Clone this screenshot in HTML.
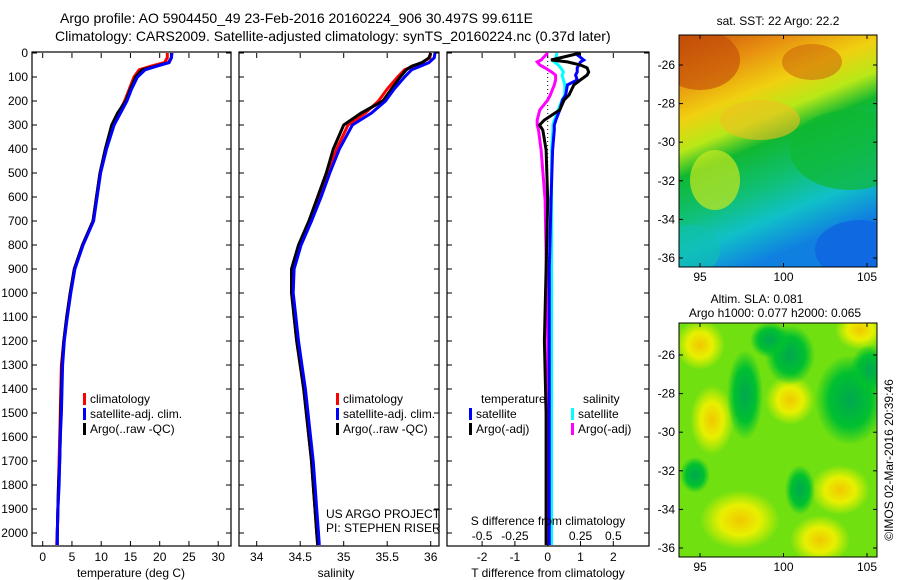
<!DOCTYPE html>
<html><head><meta charset="utf-8">
<style>
html,body{margin:0;padding:0;background:#fff;}
svg{display:block;font-family:"Liberation Sans",sans-serif;}
text{fill:#000;}
</style></head>
<body>
<svg id="fig" width="900" height="580" viewBox="0 0 900 580" xmlns="http://www.w3.org/2000/svg">
<defs>
  <linearGradient id="sstGrad" x1="0" y1="0" x2="0.35" y2="1">
    <stop offset="0" stop-color="#c8500a"/>
    <stop offset="0.18" stop-color="#e89010"/>
    <stop offset="0.33" stop-color="#f0d010"/>
    <stop offset="0.45" stop-color="#b8e818"/>
    <stop offset="0.55" stop-color="#10b830"/>
    <stop offset="0.72" stop-color="#10c078"/>
    <stop offset="0.85" stop-color="#10c0c8"/>
    <stop offset="1" stop-color="#1080e0"/>
  </linearGradient>
  <radialGradient id="yb"><stop offset="0" stop-color="#f0c800"/><stop offset="0.5" stop-color="#e8f000"/><stop offset="1" stop-color="#e8f000" stop-opacity="0"/></radialGradient>
  <radialGradient id="gb"><stop offset="0" stop-color="#00a850"/><stop offset="0.6" stop-color="#00c030"/><stop offset="1" stop-color="#00c030" stop-opacity="0"/></radialGradient>
  <clipPath id="m1"><rect x="679" y="35" width="198" height="232"/></clipPath>
  <clipPath id="m2"><rect x="679" y="323" width="198" height="234"/></clipPath>
</defs>

<text x="60" y="23" font-size="14" text-anchor="start">Argo profile: AO 5904450_49 23-Feb-2016 20160224_906 30.497S 99.611E</text>
<text x="55" y="41" font-size="14" text-anchor="start">Climatology: CARS2009. Satellite-adjusted climatology: synTS_20160224.nc (0.37d later)</text>

<g id="p1"></g>
<g id="p2"></g>
<g id="p3"></g>

<!-- SST map -->
<g>
  <text x="778" y="25" font-size="12" text-anchor="middle">sat. SST: 22 Argo: 22.2</text>
  <g clip-path="url(#m1)">
    <rect x="679" y="35" width="198" height="232" fill="url(#sstGrad)"/>
    <ellipse cx="700" cy="60" rx="40" ry="30" fill="#c04a08" opacity="0.6"/>
    <ellipse cx="812" cy="62" rx="30" ry="18" fill="#c85a0a" opacity="0.5"/>
    <ellipse cx="850" cy="150" rx="60" ry="40" fill="#10b830" opacity="0.7"/>
    <ellipse cx="715" cy="180" rx="25" ry="30" fill="#c8e820" opacity="0.7"/>
    <ellipse cx="760" cy="120" rx="40" ry="20" fill="#f0c020" opacity="0.6"/>
    <ellipse cx="860" cy="250" rx="45" ry="30" fill="#1060e0" opacity="0.7"/>
    <ellipse cx="690" cy="250" rx="30" ry="25" fill="#10c0b0" opacity="0.6"/>
  </g>
  <rect x="679" y="35" width="198" height="232" fill="none" stroke="#000" stroke-width="1"/>
</g>
<text x="757" y="303" font-size="12" text-anchor="middle">Altim. SLA: 0.081</text>
<text x="775" y="317" font-size="12" text-anchor="middle">Argo h1000: 0.077 h2000: 0.065</text>
<g>
  <g clip-path="url(#m2)">
    <rect x="679" y="323" width="198" height="234" fill="#70e010"/>
    <ellipse cx="700" cy="345" rx="25" ry="25" fill="url(#yb)"/>
    <ellipse cx="712" cy="420" rx="22" ry="35" fill="url(#yb)"/>
    <ellipse cx="840" cy="490" rx="30" ry="25" fill="url(#yb)"/>
    <ellipse cx="820" cy="540" rx="30" ry="25" fill="url(#yb)"/>
    <ellipse cx="740" cy="520" rx="40" ry="30" fill="url(#yb)"/>
    <ellipse cx="790" cy="400" rx="25" ry="25" fill="url(#yb)"/>
    <ellipse cx="860" cy="330" rx="25" ry="20" fill="url(#yb)"/>
    <ellipse cx="790" cy="355" rx="25" ry="30" fill="url(#gb)"/>
    <ellipse cx="850" cy="400" rx="35" ry="45" fill="url(#gb)"/>
    <ellipse cx="745" cy="395" rx="18" ry="45" fill="url(#gb)"/>
    <ellipse cx="770" cy="340" rx="20" ry="18" fill="url(#gb)"/>
    <ellipse cx="695" cy="475" rx="15" ry="18" fill="url(#gb)"/>
    <ellipse cx="800" cy="490" rx="15" ry="25" fill="url(#gb)"/>
    <ellipse cx="870" cy="370" rx="20" ry="25" fill="url(#gb)"/>
  </g>
  <rect x="679" y="323" width="198" height="234" fill="none" stroke="#000" stroke-width="1"/>
</g>
<text transform="translate(893,460) rotate(-90)" font-size="12" text-anchor="middle">©IMOS 02-Mar-2016 20:39:46</text>
<g id="mapticks"></g>

<script>
// ---- data ----
const depthTicks = [0,100,200,300,400,500,600,700,800,900,1000,1100,1200,1300,1400,1500,1600,1700,1800,1900,2000];
const tempTicks = [0,5,10,15,20,25,30];
const salTicks = [34,34.5,35,35.5,36];
const salTickLabels = ["34","34.5","35","35.5","36"];
const tdTicks = [-2,-1,0,1,2];
const sdTicks = [-0.5,-0.25,0,0.25,0.5];
const sdTickLabels = ["-0.5","-0.25","0","0.25","0.5"];

const depths = [0,20,40,55,70,100,150,200,250,300,400,500,600,700,800,900,1000,1100,1200,1300,1400,1500,1600,1700,1800,1900,2000,2050];
const tempClim = [21.3,21.3,20.8,18.5,16.5,15.6,14.8,14.0,13.0,12.0,10.8,9.8,9.2,8.6,6.8,5.4,4.7,4.1,3.6,3.2,3.1,3.0,2.9,2.8,2.7,2.6,2.5,2.4];
const tempSat  = [22.1,22.0,21.6,19.5,17.5,16.2,15.2,14.4,13.3,12.2,10.9,9.9,9.3,8.7,6.9,5.5,4.8,4.2,3.7,3.4,3.3,3.2,3.0,2.9,2.8,2.6,2.5,2.5];
const tempArgo = [22.0,22.0,21.5,19.3,17.0,15.9,15.0,14.2,12.8,11.8,10.7,9.8,9.2,8.6,6.8,5.4,4.7,4.1,3.6,3.3,3.2,3.1,3.0,2.9,2.7,2.6,2.5,2.5];
const salClim = [36.0,35.99,35.9,35.8,35.7,35.62,35.5,35.4,35.25,35.05,34.92,34.82,34.72,34.62,34.5,34.42,34.41,34.43,34.46,34.5,34.54,34.57,34.6,34.63,34.65,34.67,34.69,34.71];
const salSat  = [36.05,36.04,35.98,35.88,35.78,35.7,35.58,35.48,35.32,35.1,34.95,34.84,34.74,34.63,34.51,34.43,34.42,34.45,34.48,34.52,34.56,34.59,34.62,34.65,34.67,34.69,34.71,34.72];
const salArgo = [36.0,35.98,35.9,35.78,35.72,35.65,35.55,35.45,35.2,35.0,34.88,34.8,34.7,34.6,34.48,34.4,34.4,34.43,34.46,34.5,34.54,34.57,34.6,34.63,34.65,34.67,34.69,34.7];

const dDepths = [0,29,37,50,62,79,92,112,133,175,196,237,279,300,321,404,612,900,1200,1500,1800,2050];
const dTSat  = [0.83,1.1,1.0,0.95,0.9,0.9,0.85,0.9,0.6,0.55,0.45,0.37,0.25,0.2,0.2,0.15,0.1,0.05,0.05,0.05,0.05,0.05];
const dTArgo = [1.0,0.1,0.6,1.0,1.2,1.25,1.2,1.0,0.8,0.65,0.5,0.37,-0.1,-0.25,-0.15,-0.05,0.0,-0.05,-0.1,-0.05,-0.05,-0.05];
const dSSat  = [0.07,0.06,0.05,0.08,0.1,0.12,0.11,0.12,0.13,0.13,0.11,0.08,0.05,0.04,0.04,0.03,0.03,0.03,0.03,0.03,0.03,0.03];
const dSArgo = [0.0,-0.05,-0.08,-0.06,-0.02,0.03,0.06,0.06,0.05,0.02,0.0,-0.06,-0.08,-0.08,-0.07,-0.05,-0.02,-0.01,0.0,0.0,-0.01,-0.01];

const mapLatTicks = [-26,-28,-30,-32,-34,-36];
const mapLonTicks = [95,100,105];

// ---- scales ----
const Y0=53, YB=546;
const yD = d => Y0 + d*0.24;
const P1 = {x0:32,x1:231}, P2={x0:239,x1:439}, P3={x0:447,x1:649};
const xT = t => 42.7 + t*5.85;
const xS = s => 256.7 + (s-34)*87;
const xTd = t => 547.7 + t*32.8;
const xSd = s => 547.7 + s*4*32.8;
const NS='http://www.w3.org/2000/svg';
function mk(tag, attrs, parent){const e=document.createElementNS(NS,tag);for(const k in attrs)e.setAttribute(k,attrs[k]);parent.appendChild(e);return e;}
function txt(parent,x,y,s,size,anchor){const t=mk('text',{x:x,y:y,'font-size':size,'text-anchor':anchor||'middle'},parent);t.textContent=s;return t;}

function frame(g,P){
  const r=mk('rect',{x:P.x0,y:Y0-1,width:P.x1-P.x0,height:YB-Y0+1,fill:'none',stroke:'#000','stroke-width':1.2},g);
  
  
  depthTicks.forEach(d=>{
    mk('line',{x1:P.x0,x2:P.x0+5,y1:yD(d),y2:yD(d),stroke:'#000'},g);
    mk('line',{x1:P.x1,x2:P.x1-5,y1:yD(d),y2:yD(d),stroke:'#000'},g);
  });
}
function series(g,xs,vals,fx,col,name,w){
  const pts=vals.map((v,i)=>fx(v).toFixed(1)+','+yD(xs[i]).toFixed(1)).join(' ');
  const p=mk('polyline',{points:pts,fill:'none',stroke:col,'stroke-width':w||3,'stroke-linejoin':'miter'},g);
  
  
}
function legend(g,x,y,items){
  items.forEach((it,i)=>{
    const r=mk('rect',{x:x,y:y+i*15-10,width:3,height:12,fill:it[0]},g);
    
    
    const t=txt(g,x+7,y+i*15,it[1],12,'start');
    
    
  });
}

// Panel 1
const g1=document.getElementById('p1');
frame(g1,P1);
depthTicks.forEach(d=>{const t=txt(g1,28,yD(d)+4,String(d),12,'end');
  
  });
tempTicks.forEach(v=>{mk('line',{x1:xT(v),x2:xT(v),y1:Y0,y2:Y0+5,stroke:'#000'},g1);mk('line',{x1:xT(v),x2:xT(v),y1:YB,y2:YB-5,stroke:'#000'},g1);
  const t=txt(g1,xT(v),561,String(v),12);
  
  });
const tx1=txt(g1,131,577,'temperature (deg C)',12);


series(g1,depths,tempClim,xT,'#ff0000','temp-climatology-line');
series(g1,depths,tempArgo,xT,'#000000','temp-argo-line');
series(g1,depths,tempSat,xT,'#0000ff','temp-satellite-line');
legend(g1,83,403,[['#f00','climatology'],['#00f','satellite-adj. clim.'],['#000','Argo(..raw -QC)']]);

// Panel 2
const g2=document.getElementById('p2');
frame(g2,P2);
salTicks.forEach((v,i)=>{mk('line',{x1:xS(v),x2:xS(v),y1:Y0,y2:Y0+5,stroke:'#000'},g2);mk('line',{x1:xS(v),x2:xS(v),y1:YB,y2:YB-5,stroke:'#000'},g2);
  const t=txt(g2,xS(v),561,salTickLabels[i],12);
  
  });
const tx2=txt(g2,336,577,'salinity',12);


series(g2,depths,salClim,xS,'#ff0000','sal-climatology-line');
series(g2,depths,salArgo,xS,'#000000','sal-argo-line');
series(g2,depths,salSat,xS,'#0000ff','sal-satellite-line');
legend(g2,336,403,[['#f00','climatology'],['#00f','satellite-adj. clim.'],['#000','Argo(..raw -QC)']]);
const c1=txt(g2,326,518,'US ARGO PROJECT',12,'start');


const c2=txt(g2,326,532,'PI: STEPHEN RISER',12,'start');



// Panel 3
const g3=document.getElementById('p3');
frame(g3,P3);
tdTicks.forEach(v=>{mk('line',{x1:xTd(v),x2:xTd(v),y1:Y0,y2:Y0+5,stroke:'#000'},g3);mk('line',{x1:xTd(v),x2:xTd(v),y1:YB,y2:YB-5,stroke:'#000'},g3);
  const t=txt(g3,xTd(v),561,String(v),12);
  
  });
sdTicks.forEach((v,i)=>{const t=txt(g3,xSd(v),540,sdTickLabels[i],12);
  
  });
const tx3=txt(g3,548,577,'T difference from climatology',12);


mk('line',{x1:xTd(0),x2:xTd(0),y1:Y0,y2:YB,stroke:'#000','stroke-dasharray':'1,3'},g3);
series(g3,dDepths,dSArgo,xSd,'#ff00ff','s-diff-argo-line');
series(g3,dDepths,dSSat,xSd,'#00ffff','s-diff-satellite-line');
series(g3,dDepths,dTSat,xTd,'#0000ff','t-diff-satellite-line');
series(g3,dDepths,dTArgo,xTd,'#000000','t-diff-argo-line');
const sdt=txt(g3,548,525,'S difference from climatology',12);


const lt=txt(g3,481,403,'temperature',12,'start');


const ls=txt(g3,583,403,'salinity',12,'start');


legend(g3,469,418,[['#00f','satellite'],['#000','Argo(-adj)']]);
legend(g3,571,418,[['#0ff','satellite'],['#f0f','Argo(-adj)']]);

// Map ticks
const mt=document.getElementById('mapticks');
const lon = v => 700 + (v-95)*16.7;
function mapAxes(top,bot,latAt){
  mapLatTicks.forEach(v=>{const y=latAt(v);
    mk('line',{x1:679,x2:683,y1:y,y2:y,stroke:'#000'},mt);mk('line',{x1:877,x2:873,y1:y,y2:y,stroke:'#000'},mt);
    const t=txt(mt,675,y+4,String(v),12,'end');
    
    });
  mapLonTicks.forEach(v=>{const x=lon(v);
    mk('line',{x1:x,x2:x,y1:top,y2:top+4,stroke:'#000'},mt);mk('line',{x1:x,x2:x,y1:bot,y2:bot-4,stroke:'#000'},mt);
    const t=txt(mt,x,bot+14,String(v),12);
    
    });
}
mapAxes(35,267,v=>65+(-26-v)*19.3);
mapAxes(323,557,v=>355+(-26-v)*19.3);
</script>
</svg>
</body></html>
